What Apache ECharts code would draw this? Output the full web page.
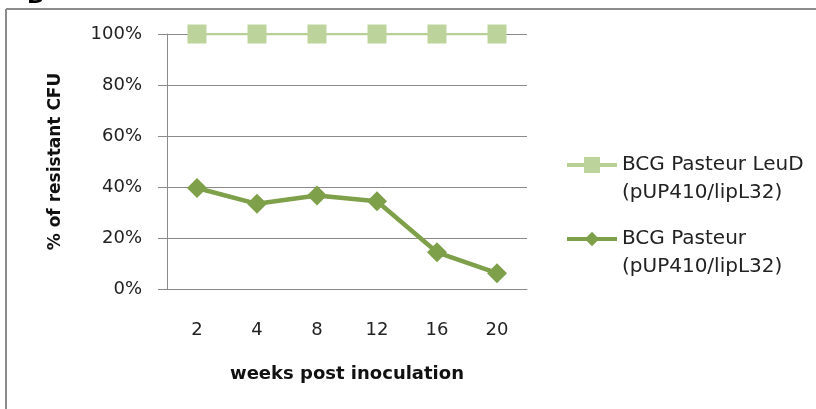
<!DOCTYPE html>
<html>
<head>
<meta charset="utf-8">
<script src="https://cdn.jsdelivr.net/npm/echarts@6/dist/echarts.min.js"></script>
<style>
  html, body { margin: 0; padding: 0; background: #fff; }
  #chart { width: 816px; height: 409px; }
</style>
</head>
<body>
<div id="chart"></div>
<script>
// Weeks after inoculation (category axis)
const weeks = ['2', '4', '8', '12', '16', '20'];

// Share of resistant CFU, in percent
const leuDSeries = [100, 100, 100, 100, 100, 100];
const pasteurSeries = [39.6, 33.4, 36.7, 34.4, 14.4, 6.2];

const seriesNames = ['BCG Pasteur LeuD\n(pUP410/lipL32)', 'BCG Pasteur\n(pUP410/lipL32)'];

// y-axis ticks (percent)
const yTicks = [0, 20, 40, 60, 80, 100];

const FONT = 'DejaVu Sans';
const chart = echarts.init(document.getElementById('chart'));

// Leading blank line keeps the legend symbol level with the first text line
const legendText = { fontFamily: FONT, fontSize: 20, color: '#222', lineHeight: 28 };
const legendFormatter = name => '\n' + name;

chart.setOption({
  animation: false,
  backgroundColor: '#fff',
  grid: { left: 167, right: 816 - 527, top: 34, bottom: 409 - 289, containLabel: false },
  xAxis: {
    type: 'category',
    data: weeks,
    boundaryGap: true,
    name: 'weeks post inoculation',
    nameLocation: 'middle',
    nameGap: 76,
    nameTextStyle: { fontFamily: FONT, fontSize: 18, fontWeight: 'bold', color: '#111' },
    axisLine: { lineStyle: { color: '#8a8a8a', width: 1 } },
    axisTick: { show: false },
    axisLabel: { fontFamily: FONT, fontSize: 18, color: '#222', margin: 32 }
  },
  yAxis: {
    type: 'value',
    min: yTicks[0],
    max: yTicks[yTicks.length - 1],
    interval: 20,
    name: '% of resistant CFU',
    nameLocation: 'middle',
    nameGap: 103,
    nameTextStyle: { fontFamily: FONT, fontSize: 17, fontWeight: 'bold', color: '#111' },
    axisLine: { show: true, lineStyle: { color: '#8a8a8a', width: 1 } },
    axisTick: { show: true, length: 9, lineStyle: { color: '#8a8a8a' } },
    axisLabel: { fontFamily: FONT, fontSize: 18, color: '#222', margin: 25, formatter: v => v + '%' },
    splitLine: { show: true, lineStyle: { color: '#8a8a8a', width: 1 } }
  },
  legend: [
    {
      data: [seriesNames[0]],
      orient: 'vertical', left: 565, top: 123, padding: 0,
      itemWidth: 50, itemHeight: 20,
      lineStyle: { width: 4 },
      formatter: legendFormatter,
      textStyle: legendText
    },
    {
      data: [seriesNames[1]],
      orient: 'vertical', left: 565, top: 197, padding: 0,
      itemWidth: 50, itemHeight: 18,
      lineStyle: { width: 4 },
      formatter: legendFormatter,
      textStyle: legendText
    }
  ],
  graphic: [
    // panel frame (left and top edges)
    { type: 'line', shape: { x1: 6, y1: 9, x2: 816, y2: 9 }, style: { stroke: '#8c8c8c', lineWidth: 2 } },
    { type: 'line', shape: { x1: 6, y1: 9, x2: 6, y2: 409 }, style: { stroke: '#8c8c8c', lineWidth: 2 } },
    // panel letter
    { type: 'text', x: 27, y: 8, style: { text: 'B', font: 'bold 22px ' + FONT, fill: '#000', verticalAlign: 'bottom' } }
  ],
  series: [
    {
      name: seriesNames[0],
      type: 'line',
      data: leuDSeries,
      symbol: 'rect',
      symbolSize: 19,
      lineStyle: { color: '#b8d094', width: 2.5 },
      itemStyle: { color: '#bcd49b' },
      z: 3
    },
    {
      name: seriesNames[1],
      type: 'line',
      data: pasteurSeries,
      symbol: 'diamond',
      symbolSize: 20,
      lineStyle: { color: '#7fa04a', width: 4.5 },
      itemStyle: { color: '#7fa04a' },
      z: 4
    }
  ]
});
</script>
</body>
</html>
